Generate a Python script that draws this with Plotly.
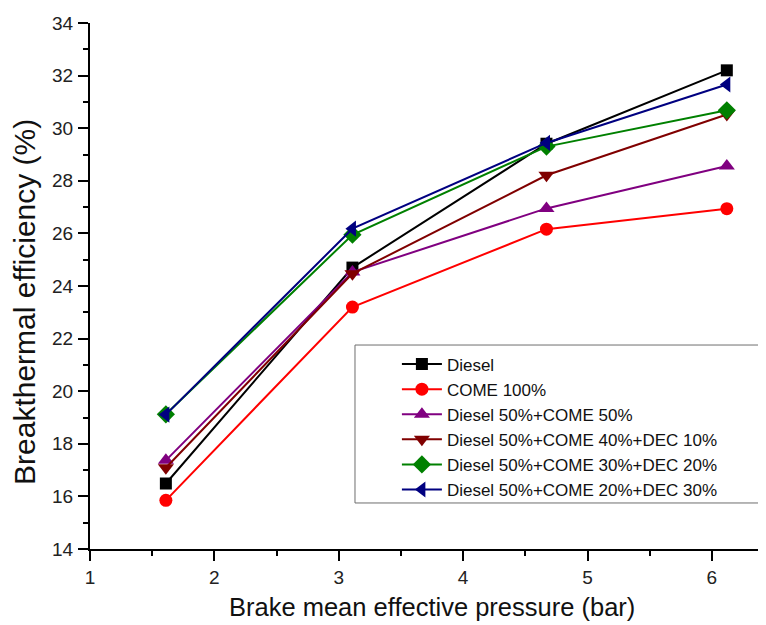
import plotly.graph_objects as go

bmep = [1.61, 3.11, 4.67, 6.12]
series_names = [
    "Diesel",
    "COME 100%",
    "Diesel 50%+COME 50%",
    "Diesel 50%+COME 40%+DEC 10%",
    "Diesel 50%+COME 30%+DEC 20%",
    "Diesel 50%+COME 20%+DEC 30%",
]
diesel = [16.49, 24.70, 29.41, 32.20]
come100 = [15.85, 23.20, 26.16, 26.94]
d50_c50 = [17.37, 24.53, 26.95, 28.56]
d50_c40_dec10 = [17.09, 24.47, 28.21, 30.52]
d50_c30_dec20 = [19.12, 25.95, 29.30, 30.68]
d50_c20_dec30 = [19.11, 26.18, 29.44, 31.66]
values = [diesel, come100, d50_c50, d50_c40_dec10, d50_c30_dec20, d50_c20_dec30]

x_title = "Brake mean effective pressure (bar)"
y_title = "Breakthermal efficiency (%)"

colors = ["#000000", "#FF0000", "#800080", "#800000", "#008000", "#000080"]
symbols = ["square", "circle", "triangle-up", "triangle-down", "diamond", "triangle-left"]
sizes = [12, 13, 14, 14, 14, 14]

FONT = "Liberation Sans, Arial, sans-serif"

fig = go.Figure()
for name, ys, c, s, ms in zip(series_names, values, colors, symbols, sizes):
    fig.add_trace(go.Scatter(
        x=bmep, y=ys, name=name, mode="lines+markers",
        line=dict(color=c, width=2),
        marker=dict(symbol=s, size=ms, color=c, line=dict(width=0)),
    ))

# legend frame
fig.add_shape(type="rect", xref="paper", yref="paper",
              x0=0.392, x1=0.994, y0=0.0875, y1=0.3878,
              line=dict(color="#6e6e6e", width=1), fillcolor="white", layer="below")

axis_common = dict(
    showline=True, linecolor="black", linewidth=2,
    ticks="outside", ticklen=10, tickwidth=2, tickcolor="black",
    showgrid=False, zeroline=False, automargin=False,
)

fig.update_layout(
    width=766, height=625,
    margin=dict(l=82, r=8, t=15, b=84),
    plot_bgcolor="white", paper_bgcolor="white",
    xaxis=dict(range=[1, 6.435], dtick=1, tick0=1,
               minor=dict(dtick=0.5, ticklen=5, tickwidth=2, tickcolor="black", ticks="outside"),
               tickfont=dict(family=FONT, size=19, color="#222222"),
               **axis_common),
    yaxis=dict(range=[14, 34], dtick=2, tick0=14,
               minor=dict(dtick=1, ticklen=5, tickwidth=2, tickcolor="black", ticks="outside"),
               tickfont=dict(family=FONT, size=19, color="#222222"),
               ticklabelstandoff=1,
               **axis_common),
    legend=dict(x=0.454, y=0.385, xanchor="left", yanchor="top",
                bgcolor="rgba(0,0,0,0)", borderwidth=0,
                font=dict(family=FONT, size=17, color="#111111"),
                itemwidth=40, tracegroupgap=0),
    showlegend=True,
    annotations=[
        dict(text=x_title, xref="paper", yref="paper", x=0.5, y=0,
             xanchor="center", yanchor="middle", xshift=4, yshift=-58,
             showarrow=False, font=dict(family=FONT, size=25.5, color="#111111")),
        dict(text=y_title, xref="paper", yref="paper", x=0, y=0.4696,
             xanchor="center", yanchor="middle", xshift=-65, textangle=-90,
             showarrow=False, font=dict(family=FONT, size=30, color="#111111")),
    ],
)

fig.write_html("out.html")
